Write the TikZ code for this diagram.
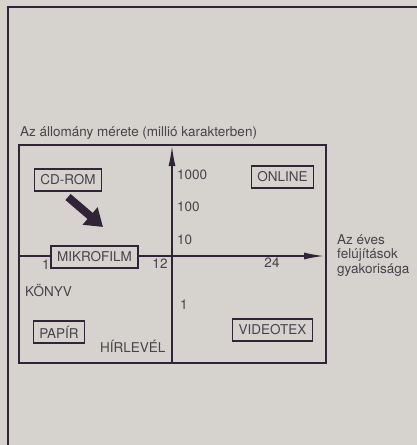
\documentclass[tikz,border=0pt]{standalone}
\usepackage{fontspec}
\setmainfont{TeX Gyre Heros}
\usetikzlibrary{arrows.meta, positioning}
\definecolor{mypaper}{RGB}{214,211,206}
\definecolor{myink}{RGB}{48,36,54}
\definecolor{mytext}{RGB}{72,66,74}
\tikzset{
  medium/.style={rectangle, draw=myink, fill=mypaper, text=mytext,
    minimum height=22pt, inner xsep=6pt, inner ysep=0pt,
    font=\fontsize{13.5}{15}\selectfont, line width=1.2pt},
  tag/.style={text=mytext, inner sep=0pt, font=\fontsize{13.5}{15}\selectfont},
  tick/.style={text=mytext, inner sep=0pt, font=\fontsize{13.5}{15}\selectfont},
  axis/.style={-{Latex[length=20pt, width=7pt]}, line width=1.4pt, color=myink},
  frame/.style={line width=1.4pt, color=myink},
  bigarrow/.style={-{Triangle[length=17pt, width=22pt]}, line width=8pt, color=myink}
}

\begin{document}
\begin{tikzpicture}[x=1pt, y=-1pt]
  \useasboundingbox[fill=mypaper] (0,0) rectangle (417,445);
  % page frame
  \draw[line width=2.2pt, color=myink] (8,445) -- (8,7) -- (417,7);
  % chart box and axes
  \draw[frame] (19,145) rectangle (326,363);
  \coordinate (xs) at (19,256);
  \coordinate (xe) at (324,256);
  \coordinate (ys) at (172,363);
  \coordinate (ye) at (172,146);
  \draw[axis] (xs) -- (xe);
  \draw[axis] (ys) -- (ye);
  % axis titles
  \node[tag, anchor=west] (ytitle) at (20,133) {Az állomány mérete (millió karakterben)};
  \node[tag, anchor=north west, align=left, font=\fontsize{13.5}{14.5}\selectfont]
    (xtitle) at (337,234) {Az éves\\felújítások\\gyakorisága};
  % scale values
  \node[tick, anchor=west] (v1000) at (177,175) {1000};
  \node[tick, anchor=west] (v100) at (177,207) {100};
  \node[tick, anchor=west] (v10) at (177,240) {10};
  \node[tick, anchor=west] (v1) at (180,305) {1};
  \node[tick] (h1) at (46,265) {1};
  \node[tick] (h12) at (160,264) {12};
  \node[tick] (h24) at (272,263) {24};
  % media
  \node[medium] (cdrom) at (68,180) {CD-ROM};
  \node[medium] (online) at (282.5,177) {ONLINE};
  \node[medium] (mikrofilm) at (94.5,257) {MIKROFILM};
  \node[medium] (papir) at (59,332) {PAPÍR};
  \node[medium] (videotex) at (272.5,330) {VIDEOTEX};
  \node[tag, anchor=west] (konyv) at (25,291) {KÖNYV};
  \node[tag, anchor=west] (hirlevel) at (100,346) {HÍRLEVÉL};
  % shift from CD-ROM towards MIKROFILM
  \coordinate (bs) at (68,197);
  \coordinate (be) at (103,227);
  \draw[bigarrow] (bs) -- (be);
\end{tikzpicture}
\end{document}
